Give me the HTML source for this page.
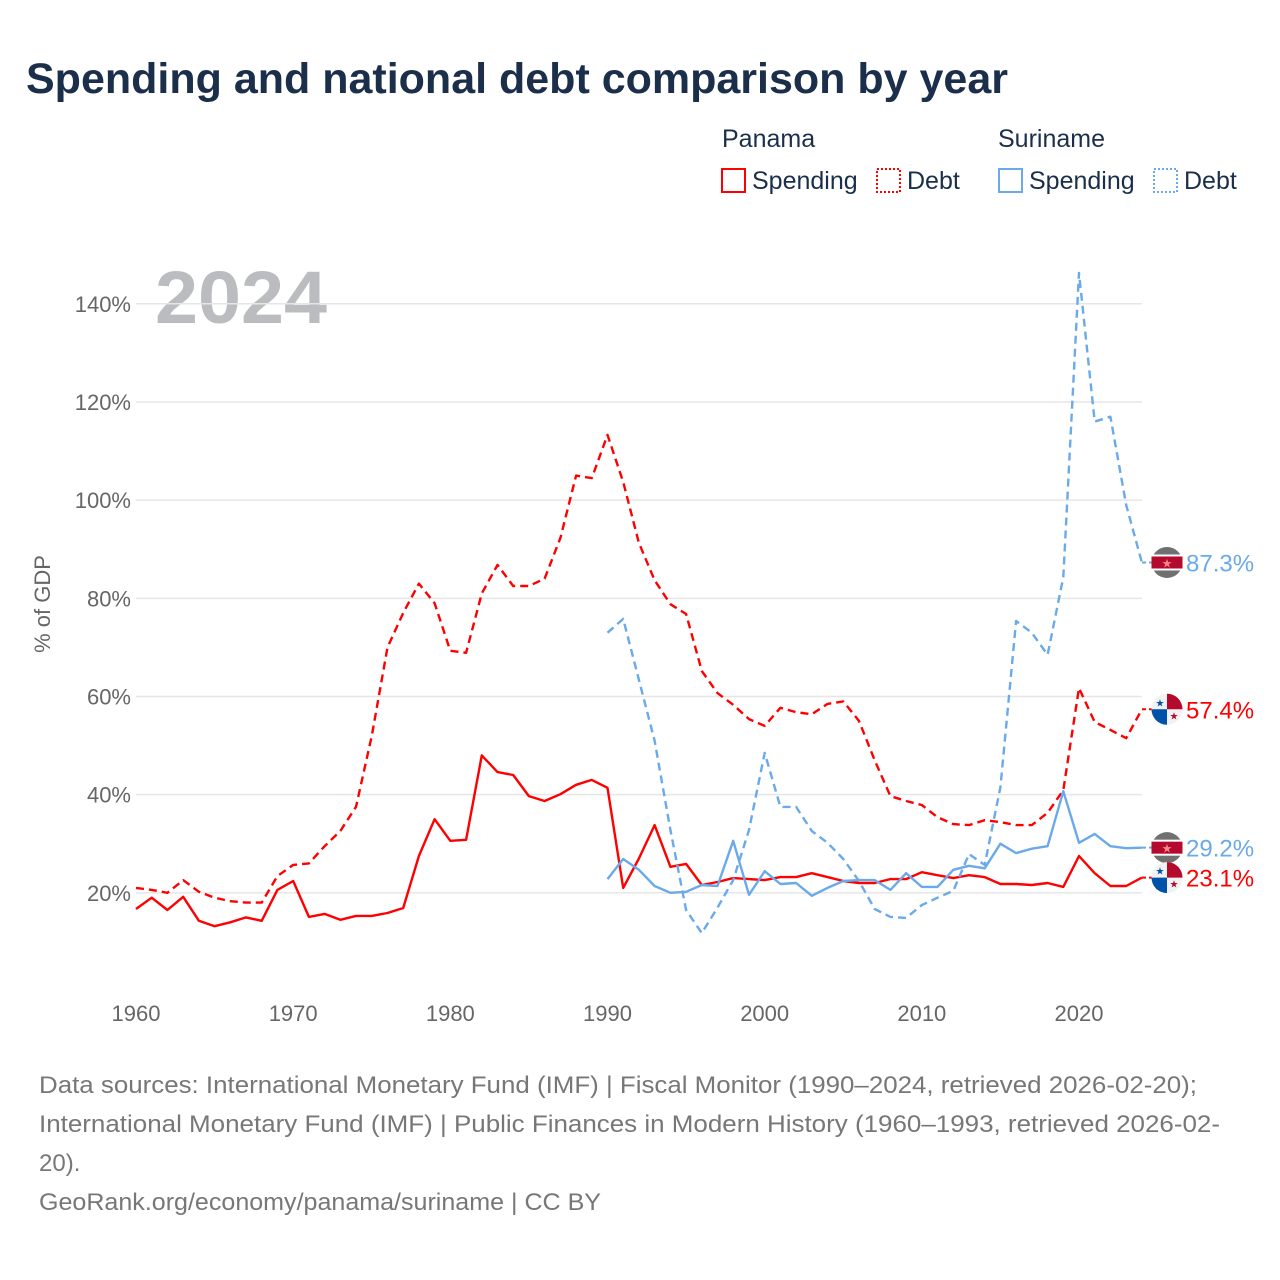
<!DOCTYPE html>
<html><head><meta charset="utf-8"><style>
body{margin:0;background:#fff;font-family:"Liberation Sans",sans-serif;}
#wrap{position:relative;width:1280px;height:1280px;overflow:hidden;}
</style></head><body>
<div id="wrap">
<svg id="svg" width="1280" height="1280" xmlns="http://www.w3.org/2000/svg">
<text x="26" y="93" font-size="43" font-weight="bold" fill="#1b2f4b" textLength="982" lengthAdjust="spacingAndGlyphs">Spending and national debt comparison by year</text>
<g font-size="25" fill="#1b2f4b">
<text x="722" y="147">Panama</text>
<text x="998" y="147">Suriname</text>
<g><rect x="722" y="169" width="23" height="23" fill="none" stroke="#f00" stroke-width="2"/><text x="752" y="189">Spending</text></g>
<g><rect x="877" y="169" width="23" height="23" fill="none" stroke="#f00" stroke-width="2" stroke-dasharray="2,2"/><text x="907" y="189">Debt</text></g>
<g><rect x="999" y="169" width="23" height="23" fill="none" stroke="#6aa9ea" stroke-width="2"/><text x="1029" y="189">Spending</text></g>
<g><rect x="1154" y="169" width="23" height="23" fill="none" stroke="#6aa9ea" stroke-width="2" stroke-dasharray="2,2"/><text x="1184" y="189">Debt</text></g>
</g>
<text x="155" y="323" font-size="74" font-weight="bold" fill="#bbbcbf" textLength="172" lengthAdjust="spacingAndGlyphs">2024</text>
<text transform="translate(50,604) rotate(-90)" text-anchor="middle" font-size="22" fill="#666">% of GDP</text>
<g id="grid"></g><g id="series"></g><g id="ends"></g>
<g font-size="24" fill="#777">
<text x="39" y="1093" textLength="1158" lengthAdjust="spacingAndGlyphs">Data sources: International Monetary Fund (IMF) | Fiscal Monitor (1990–2024, retrieved 2026-02-20);</text>
<text x="39" y="1132" textLength="1181" lengthAdjust="spacingAndGlyphs">International Monetary Fund (IMF) | Public Finances in Modern History (1960–1993, retrieved 2026-02-</text>
<text x="39" y="1171">20).</text>
<text x="39" y="1210" textLength="562" lengthAdjust="spacingAndGlyphs">GeoRank.org/economy/panama/suriname | CC BY</text>
</g>
</svg>
</div>
<script>
const panYears0 = 1960;
const panSpending = [16.7,19,16.5,19.2,14.3,13.2,14,15,14.3,20.6,22.4,15.1,15.7,14.5,15.3,15.3,15.9,16.9,27.5,35,30.6,30.8,48,44.6,44,39.7,38.7,40.1,42,43,41.4,21,27,33.8,25.3,25.9,21.6,22.2,23,22.8,22.6,23.2,23.2,24,23.2,22.4,22,22,22.8,22.8,24.2,23.6,23,23.6,23.2,21.8,21.8,21.6,22,21.2,27.5,24,21.4,21.4,23.1];
const panDebt = [21,20.6,20,22.6,20.2,19,18.3,18,18,23.4,25.7,26,29.5,32.6,37.5,52,70,77,83,79,69.3,68.9,81,86.8,82.5,82.5,84,92.3,105,104.5,113.3,103.7,91.3,83.7,78.8,76.8,65.2,60.7,58.3,55.4,54,57.7,56.8,56.4,58.5,59,55,47,39.7,38.7,37.9,35.4,34,33.8,34.8,34.4,33.8,33.8,36.3,40.9,61.7,54.8,53.2,51.5,57.4];
const surYears0 = 1990;
const surSpending = [22.8,26.9,24.7,21.4,20,20.2,21.6,21.4,30.6,19.6,24.4,21.8,22,19.4,21,22.4,22.6,22.6,20.6,24,21.2,21.2,24.7,25.5,25,30,28.1,29,29.5,40.7,30.2,32,29.5,29.1,29.2];
const surDebt = [73,75.8,63.4,51,32.8,16.5,11.8,17,22.6,32.8,48.5,37.5,37.5,32.6,30.2,26.9,22.4,16.7,15.1,14.9,17.5,19,20.4,27.9,25.7,41.5,75.4,73,68.5,84.3,146.3,116,117,99,87.3];
const yTicks = [20,40,60,80,100,120,140];
const xTicks = [1960,1970,1980,1990,2000,2010,2020];

const NS="http://www.w3.org/2000/svg";
const X = yr => 136 + (yr-1960)*943/60;
const Y = v => 991 - v*4.9085;
function mk(tag, attrs, parent){const e=document.createElementNS(NS,tag);for(const k in attrs)e.setAttribute(k,attrs[k]);parent.appendChild(e);return e;}
const grid=document.getElementById('grid');
yTicks.forEach(t=>{
  const l=mk('line',{x1:136,x2:1142,y1:Y(t),y2:Y(t),stroke:'#e6e6e6','stroke-width':1.5},grid);
  
  
  const tx=mk('text',{x:131,y:Y(t)+8,'text-anchor':'end','font-size':22,fill:'#666'},grid);
  tx.textContent=t+'%';
  
  
});
xTicks.forEach(t=>{
  const tx=mk('text',{x:X(t),y:1021,'text-anchor':'middle','font-size':22,fill:'#666'},grid);
  tx.textContent=t;
  
  
});
const ser=document.getElementById('series');
function line(arr,y0,color,dash,name){
  const d=arr.map((v,i)=>(i?'L':'M')+X(y0+i).toFixed(1)+' '+Y(v).toFixed(1)).join(' ');
  const p=mk('path',{d:d,fill:'none',stroke:color,'stroke-width':2.4,'stroke-linejoin':'round'},ser);
  if(dash)p.setAttribute('stroke-dasharray','8,5');
  
  
}
line(panDebt,panYears0,'#ff0000',true,'panama-debt-line');
line(panSpending,panYears0,'#ff0000',false,'panama-spending-line');
line(surDebt,surYears0,'#6aa9ea',true,'suriname-debt-line');
line(surSpending,surYears0,'#6aa9ea',false,'suriname-spending-line');
const ends=document.getElementById('ends');
function endLabel(v,color,flag,name){
  const g=mk('g',{},ends);
  
  
  const cx=1167,cy=Y(v);
  mk('line',{x1:1142,x2:1152,y1:cy,y2:cy,stroke:color,'stroke-width':2,'stroke-dasharray':'4,3'},g);
  if(flag==='sur'){
    mk('circle',{cx:cx,cy:cy,r:15.5,fill:'#707070'},g);
    mk('rect',{x:cx-15.5,y:cy-8,width:31,height:16,fill:'#fff'},g);
    mk('rect',{x:cx-15.5,y:cy-6,width:31,height:12,fill:'#b40a2d'},g);
    mk('text',{x:cx,y:cy+5,'text-anchor':'middle','font-size':12,fill:'#f88'},g).textContent='★';
  } else {
    mk('circle',{cx:cx,cy:cy,r:15.5,fill:'#f2f2f2'},g);
    mk('path',{d:`M${cx} ${cy} L${cx} ${cy-15.5} A15.5 15.5 0 0 1 ${cx+15.5} ${cy} Z`,fill:'#b40a2d'},g);
    mk('path',{d:`M${cx} ${cy} L${cx} ${cy+15.5} A15.5 15.5 0 0 1 ${cx-15.5} ${cy} Z`,fill:'#0051a8'},g);
    mk('text',{x:cx-7,y:cy-3,'text-anchor':'middle','font-size':10,fill:'#0051a8'},g).textContent='★';
    mk('text',{x:cx+7,y:cy+10,'text-anchor':'middle','font-size':10,fill:'#b40a2d'},g).textContent='★';
  }
  const t=mk('text',{x:1186,y:cy+9,'font-size':24,fill:color},g);
  t.textContent=v.toFixed(1)+'%';
}
endLabel(surDebt[surDebt.length-1],'#6aa9ea','sur','end-label-suriname-debt');
endLabel(panDebt[panDebt.length-1],'#ff0000','pan','end-label-panama-debt');
endLabel(surSpending[surSpending.length-1],'#6aa9ea','sur','end-label-suriname-spending');
endLabel(panSpending[panSpending.length-1],'#ff0000','pan','end-label-panama-spending');
</script>
</body></html>
